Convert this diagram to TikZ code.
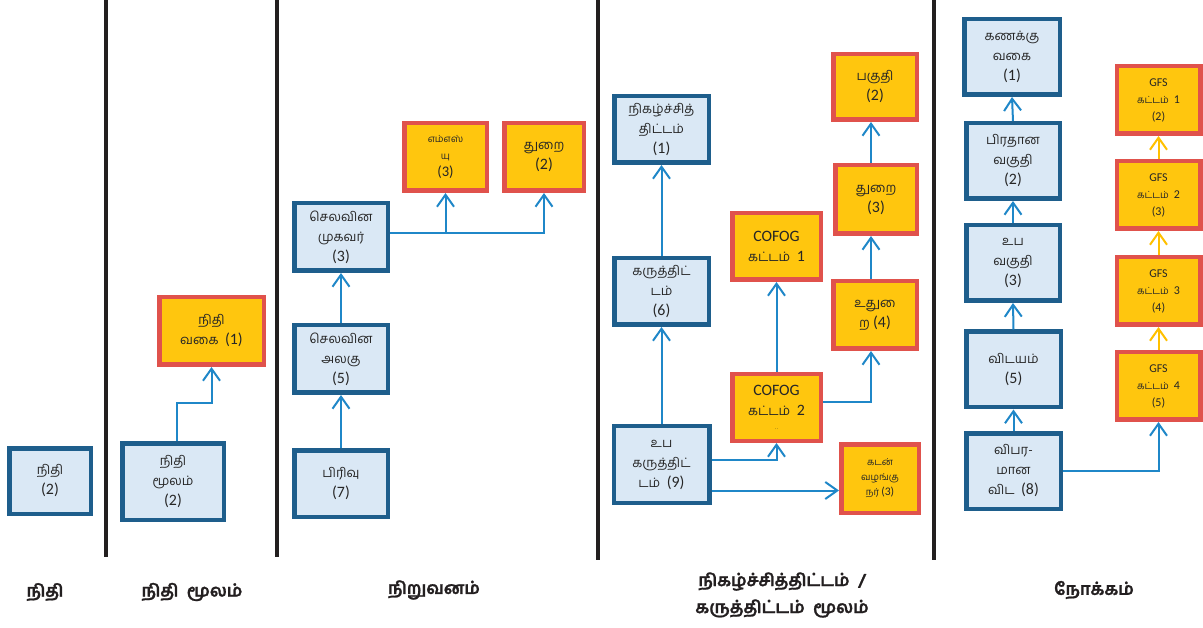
\documentclass[tikz,border=0pt]{standalone}
\usepackage{fontspec}
\setmainfont[Script=Tamil, BoldFeatures={FakeBold=1.3}]{Hind Madurai}
\newfontfamily\latinfont[Scale=1.22]{Carlito}
\newcommand\lat[1]{{\latinfont #1}}
\newcommand\aisign{\XeTeXglyph\XeTeXcharglyph"0BC8\relax}
\usetikzlibrary{arrows.meta}
\definecolor{boxblue}{RGB}{30,94,140}
\definecolor{boxfill}{RGB}{218,232,245}
\definecolor{boxred}{RGB}{224,82,76}
\definecolor{boxyellow}{RGB}{255,198,14}
\definecolor{linkblue}{RGB}{31,135,200}
\definecolor{linkyellow}{RGB}{255,192,0}
\definecolor{textgrey}{RGB}{38,38,38}
\definecolor{sepblack}{RGB}{35,31,32}
\begin{document}
\begin{tikzpicture}[x=1pt,y=-1pt,
  box/.style={line width=4.5pt, inner sep=0pt, align=center, text=textgrey,
    font=\fontsize{13}{20}\selectfont, minimum width=94.5pt, minimum height=67pt},
  bluebox/.style={box, draw=boxblue, fill=boxfill},
  redbox/.style={box, draw=boxred, fill=boxyellow, minimum width=83.5pt, minimum height=67.5pt},
  tall/.style={minimum height=75.5pt},
  small/.style={font=\fontsize{9.8}{17}\selectfont},
  tiny/.style={font=\fontsize{9.5}{15}\selectfont},
  link/.style={draw=linkblue, line width=2pt, -{Straight Barb[length=12pt,width=17pt]}},
  gfslink/.style={link, draw=linkyellow},
  sep/.style={draw=sepblack, line width=4.5pt},
  caption/.style={font=\fontsize{17}{27}\selectfont\bfseries, align=center, text=sepblack}]
\useasboundingbox (0,0) rectangle (1203,628);
\foreach \x/\h in {106/557,277/557,598/560,934/560}{
\draw[sep] (\x,0)--(\x,\h);
}

% nidhi, nidhi moolam
\node[bluebox, minimum width=81.5pt, minimum height=65.5pt] (fund) at (50,481) {நிதி\\\lat{(2)}};
\node[bluebox, minimum width=101.5pt, minimum height=76.5pt] (fundsrc) at (173,481.5) {நிதி\\மூலம்\\\lat{(2)}};
\node[redbox, minimum width=104.5pt] (fundtype) at (211.5,331) {நிதி\\வகை\enspace\lat{(1)}};
\coordinate (fundbend) at (195,403);
\draw[link] ([xshift=4pt]fundsrc.north) |- (fundbend) -| (fundtype.south);

% niruvanam
\node[bluebox, minimum width=93.5pt, minimum height=67.5pt] (agent) at (341,237) {செலவின\\முகவர்\\\lat{(3)}};
\node[bluebox, minimum width=93.5pt, minimum height=67.5pt] (unit) at (341,359) {செலவின\\அலகு\\\lat{(5)}};
\node[bluebox, minimum width=93.5pt, minimum height=66.5pt] (division) at (341,483.5) {பிரிவு\\\lat{(7)}};
\node[redbox, minimum width=82.5pt, small] (msu) at (445.5,157) {எம்எஸ்\\யு\\{\fontsize{12}{17}\selectfont\lat{(3)}}};
\node[redbox, minimum width=79.5pt] (dept) at (544,157) {துறை\\\lat{(2)}};
\draw[link] (division.north)--(unit.south);
\draw[link] (unit.north)--(agent.south);
\coordinate (agentout) at ([yshift=4pt]agent.east);
\draw[link] (agentout) -| (dept.south);
\draw[link] (agentout -| msu.south)--(msu.south);

% nigazhchithittam / karuthittam
\node[bluebox, minimum height=66.5pt] (prog) at (661.5,129.5) {நிகழ்ச்சித்\\திட்டம்\\\lat{(1)}};
\node[bluebox, minimum height=66.5pt] (proj) at (661.5,291.5) {கருத்திட்\\டம்\\\lat{(6)}};
\node[bluebox, minimum width=95.5pt, minimum height=76.5pt] (subproj) at (661.5,464.5) {உப\\கருத்திட்\\டம்\enspace\lat{(9)}};
\node[redbox, minimum width=88.5pt, minimum height=66.5pt] (cofogA) at (776.5,246.5)
  {{\fontsize{13}{22}\selectfont\lat{COFOG}}\\கட்டம்\enspace{\fontsize{13}{22}\selectfont\lat{1}}};
\node[redbox, minimum width=88.5pt, minimum height=66.5pt] (cofogB) at (776.5,407.5)
  {{\fontsize{13}{22}\selectfont\lat{COFOG}}\\கட்டம்\enspace{\fontsize{13}{22}\selectfont\lat{2}}\\[-6pt]{\fontsize{5}{6}\selectfont .\ .}};
\node[redbox, minimum height=65.5pt] (part) at (875,87) {பகுதி\\\lat{(2)}};
\node[redbox, minimum width=81.5pt, minimum height=68.5pt] (sector) at (876,199.5) {துறை\\\lat{(3)}};
\node[redbox] (subsector) at (875,315) {உது\aisign\\ற \lat{(4)}};
\node[redbox, minimum width=77.5pt, minimum height=68.5pt, tiny] (lender) at (880,478.5) {கடன்\\வழங்கு\\நர் \lat{(3)}};
\draw[link] (subproj.north)--(proj.south);
\draw[link] (proj.north)--(prog.south);
\coordinate (subprojA) at ([yshift=5pt]subproj.east);
\coordinate (subprojB) at ([yshift=-26pt]subproj.east);
\draw[link] (subprojA) -| (cofogB.south);
\draw[link] (subprojB)--(subprojB -| lender.west);
\draw[link] (cofogB.north)--(cofogA.south);
\coordinate (cofogout) at ([yshift=5pt]cofogB.east);
\draw[link] (cofogout) -| ([xshift=-4pt]subsector.south);
\draw[link] ([xshift=-4pt]subsector.north)--([xshift=-5pt]sector.south);
\draw[link] ([xshift=-5pt]sector.north)--([xshift=-4pt]part.south);

% nokkam
\node[bluebox, tall, minimum width=95.5pt] (acct) at (1012,57) {கணக்கு\\வகை\\\lat{(1)}};
\node[bluebox, tall, minimum width=93.5pt] (major) at (1013,161) {பிரதான\\வகுதி\\\lat{(2)}};
\node[bluebox, tall, minimum width=93.5pt] (minor) at (1013,263) {உப\\வகுதி\\\lat{(3)}};
\node[bluebox, tall] (item) at (1013.5,369.5) {விடயம்\\\lat{(5)}};
\node[bluebox, tall] (detail) at (1013.5,471) {விபர-\\மான\\விட\enspace\lat{(8)}};
\foreach \n/\y in {1/100,2/195,3/291,4/386}{
\node[redbox, small] (gfs\n) at (1158.5,\y) {\lat{GFS}\\கட்டம்\enspace\lat{\n}\\\lat{(\the\numexpr\n+1\relax)}};
}
\draw[link] (detail.north)--(item.south);
\draw[link] (item.north)--(minor.south);
\draw[link] (minor.north)--(major.south);
\draw[link] (major.north)--(acct.south);
\draw[link] (detail.east) -| (gfs4.south);
\foreach \n/\m in {4/3,3/2,2/1}{
\draw[gfslink] (gfs\n.north)--(gfs\m.south);
}

% captions
\node[caption] (capfund) at (45,592) {நிதி};
\node[caption] (capsrc) at (192,592) {நிதி\enspace மூலம்};
\node[caption] (caporg) at (434,590) {நிறுவனம்};
\node[caption] (capprog) at (782,595) {நிகழ்ச்சித்திட்டம்\enspace /\\கருத்திட்டம்\enspace மூலம்};
\node[caption] (capobj) at (1094,590) {நோக்கம்};
\end{tikzpicture}
\end{document}
